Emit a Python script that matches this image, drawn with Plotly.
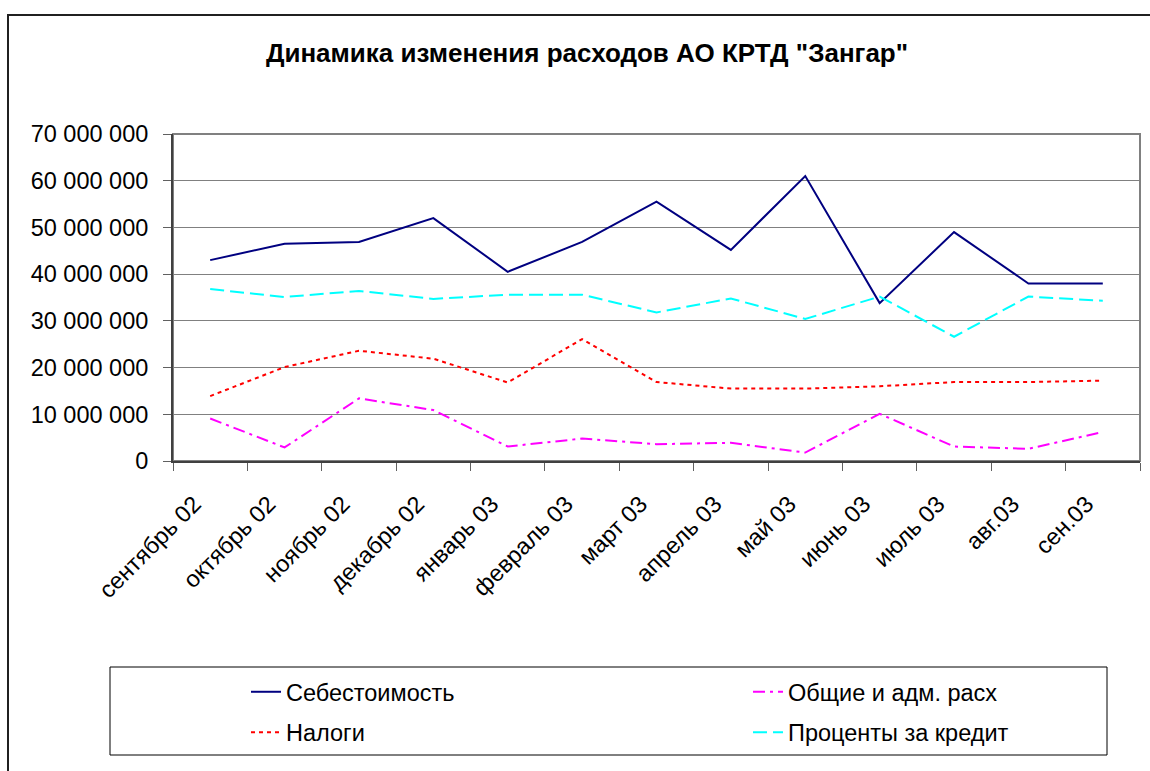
import plotly.graph_objects as go

months = [
    "сентябрь 02", "октябрь 02", "ноябрь 02", "декабрь 02", "январь 03",
    "февраль 03", "март 03", "апрель 03", "май 03", "июнь 03",
    "июль 03", "авг.03", "сен.03",
]
sebestoimost = [43.0, 46.5, 46.9, 52.0, 40.5, 46.9, 55.5, 45.2, 61.0, 33.8, 49.0, 38.0, 38.0]
nalogi = [13.9, 20.1, 23.6, 21.9, 16.8, 26.1, 16.9, 15.5, 15.5, 16.0, 16.9, 16.9, 17.2]
obshchie = [9.1, 2.9, 13.4, 10.9, 3.1, 4.8, 3.6, 3.9, 1.8, 10.1, 3.1, 2.6, 6.2]
protsenty = [36.8, 35.1, 36.4, 34.7, 35.6, 35.6, 31.8, 34.8, 30.4, 35.2, 26.6, 35.2, 34.3]

MLN = 1_000_000
FONT = "Liberation Sans, Arial, sans-serif"
W, H = 1150, 771
L, R, T, B = 173, 10, 134, 310
PW, PH = W - L - R, H - T - B


def px_x(x):
    return (x - L) / PW


def px_y(y):
    return (H - B - y) / PH


# name, values, colour, dash, legend column
series = [
    ("Себестоимость", sebestoimost, "#000080", "solid", "legend"),
    ("Налоги", nalogi, "#FF0000", "4px,4px", "legend"),
    ("Общие и адм. расх", obshchie, "#FF00FF", "12px,5px,3px,5px", "legend2"),
    ("Проценты за кредит", protsenty, "#00FFFF", "14px,6px", "legend2"),
]

fig = go.Figure()
for name, vals, color, dash, leg in series:
    fig.add_trace(
        go.Scatter(
            x=months,
            y=[v * MLN for v in vals],
            name=name,
            mode="lines",
            line=dict(color=color, width=2, dash=dash),
            legend=leg,
            legendgroup=name,
        )
    )

legend_common = dict(
    orientation="v",
    xanchor="left",
    yanchor="top",
    y=px_y(670),
    font=dict(size=23.5),
    bgcolor="rgba(0,0,0,0)",
    borderwidth=0,
    tracegroupgap=7,
)

fig.update_layout(
    width=W,
    height=H,
    margin=dict(l=L, r=R, t=T, b=B),
    paper_bgcolor="white",
    plot_bgcolor="white",
    font=dict(family=FONT, size=23.5, color="black"),
    separators=", ",
    title=dict(
        text="<b>Динамика изменения расходов АО КРТД \"Зангар\"</b>",
        x=587 / W,
        xanchor="center",
        y=1 - 53 / H,
        yanchor="middle",
        font=dict(size=26),
    ),
    xaxis=dict(
        type="category",
        range=[-0.5, len(months) - 0.5],
        tickangle=-45,
        tickson="boundaries",
        ticks="outside",
        ticklen=8,
        tickcolor="#606060",
        ticklabelstandoff=18,
        ticklabelshift=-16,
        showgrid=False,
        showline=True,
        linecolor="#404040",
        linewidth=2,
        automargin=False,
    ),
    yaxis=dict(
        range=[0, 70 * MLN],
        dtick=10 * MLN,
        tickformat=",.0f",
        ticks="outside",
        ticklen=8,
        tickcolor="#606060",
        ticklabelstandoff=10,
        showgrid=True,
        gridcolor="#808080",
        gridwidth=1,
        showline=True,
        linecolor="#404040",
        linewidth=2,
        zeroline=False,
        automargin=False,
    ),
    showlegend=True,
    legend=dict(legend_common, x=px_x(246)),
    legend2=dict(legend_common, x=px_x(748)),
)

# plot area frame (top and right edges)
fig.add_shape(
    type="rect", xref="paper", yref="paper",
    x0=0, x1=1, y0=0, y1=1,
    line=dict(color="#808080", width=2), layer="below",
)
# legend box
fig.add_shape(
    type="rect", xref="paper", yref="paper",
    x0=px_x(110), x1=px_x(1107),
    y0=px_y(755), y1=px_y(667),
    line=dict(color="black", width=1),
)
# outer chart frame
fig.add_shape(
    type="rect", xref="paper", yref="paper",
    x0=px_x(8), x1=px_x(1170),
    y0=px_y(800), y1=px_y(15),
    line=dict(color="#202020", width=2),
)

fig.write_html(
    "out.html",
    config={"displayModeBar": False},
    post_script="document.body.style.margin='0';",
)
